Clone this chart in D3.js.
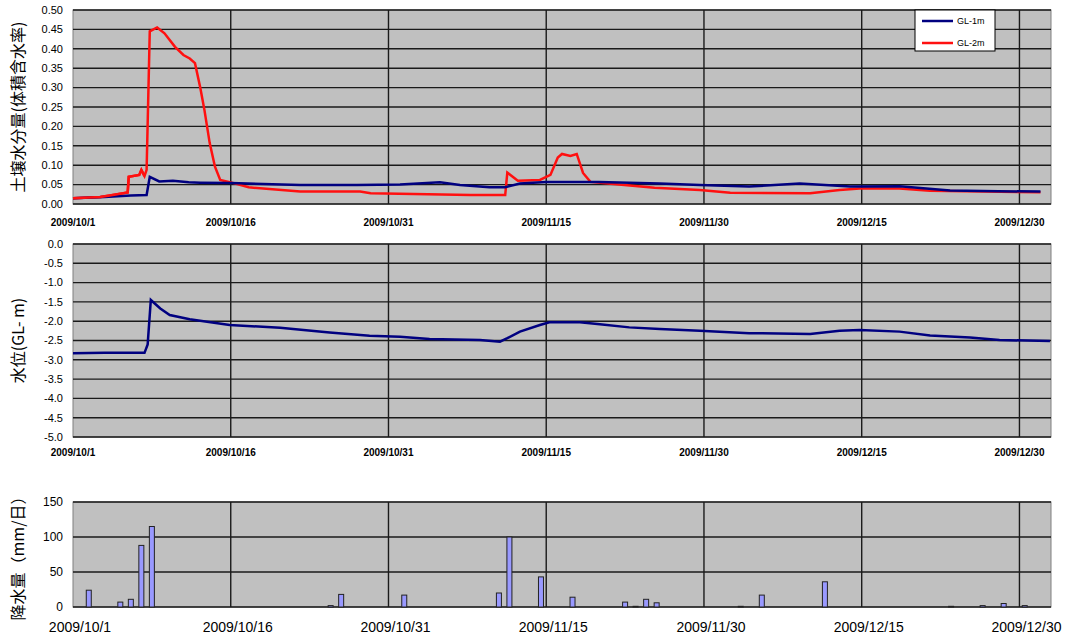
<!DOCTYPE html>
<html>
<head>
<meta charset="utf-8">
<script src="https://cdn.jsdelivr.net/npm/d3@7"></script>
<style>
body { margin: 0; background: #fff; }
text { font-family: "Liberation Sans", Arial, sans-serif; fill: #000; }
.jp { font-family: "Noto Sans CJK JP", sans-serif; }
</style>
</head>
<body>
<div id="chart"></div>
<script>

// tick labels on the date axis (days counted from 2009/10/1)
var dayTicks = [0, 15, 30, 45, 60, 75, 90];
var dayLabels = ["2009/10/1", "2009/10/16", "2009/10/31", "2009/11/15", "2009/11/30", "2009/12/15", "2009/12/30"];

// soil moisture GL-1m
var gl1mDay   = [0, 3, 5.5, 7.0, 7.3, 8.2, 9.5, 11, 12.1, 15, 21.6, 27, 31.1, 34.9, 36.8, 39.6, 41.1, 42.5, 45, 50, 55.8, 59.6, 64.3, 69.1, 73.9, 78.6, 83.4, 88, 92];
var gl1mValue = [0.015, 0.018, 0.022, 0.023, 0.07, 0.058, 0.06, 0.056, 0.055, 0.054, 0.049, 0.049, 0.05, 0.056, 0.049, 0.043, 0.043, 0.053, 0.057, 0.057, 0.053, 0.049, 0.045, 0.053, 0.045, 0.046, 0.035, 0.033, 0.032];

// soil moisture GL-2m
var gl2mDay   = [0, 2.6, 3.5, 5.2, 5.3, 6.3, 6.5, 6.8, 7.0, 7.3, 8.0, 8.7, 9.7, 10.5, 11.1, 11.6, 12.1, 12.5, 13.0, 13.5, 14.0, 15.1, 16.7, 21.6, 27.3, 28.3, 37.8, 41.1, 41.3, 42.3, 44.4, 45.4, 46.1, 46.5, 47.3, 47.9, 48.5, 49.2, 51.9, 55.3, 59.6, 62.5, 70.1, 72.9, 74.8, 78.6, 81.5, 92];
var gl2mValue = [0.015, 0.018, 0.022, 0.03, 0.07, 0.075, 0.088, 0.072, 0.088, 0.445, 0.455, 0.44, 0.405, 0.384, 0.375, 0.363, 0.30, 0.242, 0.157, 0.096, 0.062, 0.055, 0.043, 0.032, 0.032, 0.028, 0.023, 0.023, 0.081, 0.06, 0.062, 0.075, 0.12, 0.129, 0.124, 0.129, 0.08, 0.057, 0.05, 0.042, 0.036, 0.029, 0.028, 0.036, 0.04, 0.04, 0.034, 0.03];

// groundwater level (GL- m)
var levelDay   = [0, 3, 6.8, 7.1, 7.4, 8.3, 9.2, 11.1, 14.9, 19.7, 24.4, 28.2, 31.1, 33.9, 38.7, 40.6, 41.3, 42.5, 44.4, 45.3, 48.2, 50.1, 52.9, 55.8, 59.6, 64.3, 70.1, 72.9, 74.8, 78.6, 81.5, 85.3, 88.1, 92.9];
var levelValue = [-2.83, -2.82, -2.82, -2.6, -1.45, -1.67, -1.84, -1.95, -2.1, -2.17, -2.29, -2.38, -2.40, -2.46, -2.49, -2.53, -2.44, -2.27, -2.1, -2.03, -2.03, -2.08, -2.16, -2.2, -2.25, -2.31, -2.33, -2.25, -2.23, -2.27, -2.37, -2.42, -2.49, -2.51];

// daily rainfall (mm/day)
var rainDay = [1, 4, 5, 6, 7, 24, 25, 31, 40, 41, 44, 47, 52, 53, 54, 55, 63, 65, 71, 83, 86, 88, 90];
var rainMm  = [24, 7, 11, 88, 115, 2, 18, 17, 20, 100, 43, 14, 7, 1, 11, 6, 1, 17, 36, 1, 2, 5, 2];

var W = 1075, H = 639;
var left = 73, right = 1051;

var svg = d3.select("#chart").append("svg")
    .attr("width", W)
    .attr("height", H);

var x = d3.scaleLinear().domain([0, 93]).range([left, right]);

function zip(a, b) {
  return a.map(function(d, i) { return {d: d, v: b[i]}; });
}

// draws the grey plot area, the grid and the y axis of one panel
function panel(top, bottom, domain, ticks, fmt, tickSize, title, titleSize) {
  var y = d3.scaleLinear().domain(domain).range([bottom, top]);
  var g = svg.append("g");

  g.append("rect")
    .attr("x", left).attr("y", top)
    .attr("width", right - left).attr("height", bottom - top)
    .attr("fill", "#c0c0c0")
    .attr("stroke", "#808080");

  g.append("g").selectAll("line").data(ticks).join("line")
    .attr("x1", left).attr("x2", right)
    .attr("y1", function(d) { return y(d); })
    .attr("y2", function(d) { return y(d); })
    .attr("stroke", "#1a1a1a")
    .attr("stroke-width", 1.4);

  g.append("g").selectAll("line").data(dayTicks.slice(1)).join("line")
    .attr("x1", function(d) { return x(d); })
    .attr("x2", function(d) { return x(d); })
    .attr("y1", top).attr("y2", bottom)
    .attr("stroke", "#1a1a1a")
    .attr("stroke-width", 1.4);

  g.append("g").selectAll("text").data(ticks).join("text")
    .attr("x", left - 10)
    .attr("y", function(d) { return y(d); })
    .attr("dy", "0.35em")
    .attr("text-anchor", "end")
    .style("font-size", tickSize + "px")
    .text(fmt);

  g.append("text")
    .attr("class", "jp")
    .attr("transform", "translate(24," + ((top + bottom) / 2) + ") rotate(-90)")
    .attr("text-anchor", "middle")
    .style("font-size", titleSize + "px")
    .text(title);

  return y;
}

function dateLabels(yPos, size, weight, shift) {
  svg.append("g").selectAll("text").data(dayTicks).join("text")
    .attr("x", function(d) { return x(d) + shift; })
    .attr("y", yPos)
    .attr("text-anchor", "middle")
    .style("font-size", size + "px")
    .style("font-weight", weight)
    .text(function(d, i) { return dayLabels[i]; });
}

// ---- soil moisture ----
var ySoil = panel(10, 204, [0, 0.5], d3.range(0, 0.501, 0.05),
  function(d) { return d.toFixed(2); }, 11, "土壌水分量(体積含水率)", 16);

var soilLine = d3.line()
  .x(function(p) { return x(p.d); })
  .y(function(p) { return ySoil(p.v); });

svg.append("path")
  .datum(zip(gl2mDay, gl2mValue))
  .attr("fill", "none").attr("stroke", "#ff1010").attr("stroke-width", 2.5)
  .attr("d", soilLine);

svg.append("path")
  .datum(zip(gl1mDay, gl1mValue))
  .attr("fill", "none").attr("stroke", "#000080").attr("stroke-width", 2.5)
  .attr("d", soilLine);

// re-draw red over blue where they overlap early on
svg.append("path")
  .datum(zip(gl2mDay, gl2mValue).filter(function(p) { return p.d < 7; }))
  .attr("fill", "none").attr("stroke", "#ff1010").attr("stroke-width", 2.5)
  .attr("d", soilLine);

dateLabels(226, 10, "bold", 0);

// legend
var legend = svg.append("g").attr("transform", "translate(915,10)");
legend.append("rect")
  .attr("width", 80).attr("height", 41)
  .attr("fill", "#fff").attr("stroke", "#000");
[["GL-1m", "#000080"], ["GL-2m", "#ff1010"]].forEach(function(s, i) {
  var yy = 11 + i * 22;
  legend.append("line")
    .attr("x1", 7).attr("x2", 38).attr("y1", yy).attr("y2", yy)
    .attr("stroke", s[1]).attr("stroke-width", 2.5);
  legend.append("text")
    .attr("x", 42).attr("y", yy).attr("dy", "0.35em")
    .style("font-size", "9px")
    .text(s[0]);
});

// ---- water level ----
var yLevel = panel(244, 437, [-5, 0], d3.range(0, 11).map(function(i) { return -i * 0.5; }),
  function(d) { return d.toFixed(1); }, 11, "水位(GL- m)", 16);

svg.append("path")
  .datum(zip(levelDay, levelValue))
  .attr("fill", "none").attr("stroke", "#000080").attr("stroke-width", 2.5)
  .attr("d", d3.line()
    .x(function(p) { return x(p.d); })
    .y(function(p) { return yLevel(p.v); }));

dateLabels(456, 10, "bold", 0);

// ---- rainfall ----
var yRain = panel(502, 607, [0, 150], [0, 50, 100, 150],
  function(d) { return d; }, 12, "降水量（mm/日）", 16);

svg.append("g").selectAll("rect").data(zip(rainDay, rainMm)).join("rect")
  .attr("x", function(p) { return x(p.d + 0.5) - 2.5; })
  .attr("y", function(p) { return yRain(p.v); })
  .attr("width", 5)
  .attr("height", function(p) { return yRain(0) - yRain(p.v); })
  .attr("fill", "#9999ff")
  .attr("stroke", "#222")
  .attr("stroke-width", 1);

dateLabels(632, 14, "normal", 7);

</script>
</body>
</html>
